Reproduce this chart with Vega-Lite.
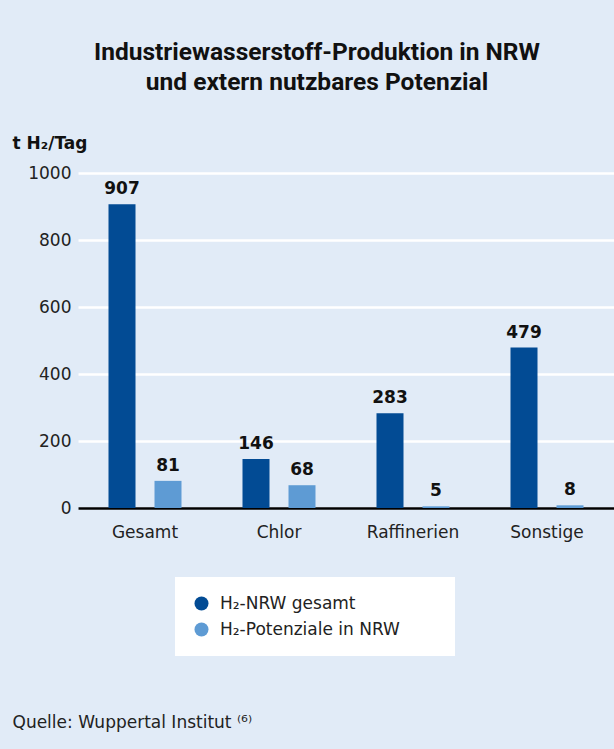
{
  "$schema": "https://vega.github.io/schema/vega-lite/v6.json",
  "width": 536,
  "height": 335,
  "autosize": {"type": "none"},
  "padding": {"left": 78, "top": 173, "right": 0, "bottom": 241},
  "background": "#e1ebf7",
  "title": {
    "text": ["Industriewasserstoff-Produktion in NRW", "und extern nutzbares Potenzial"],
    "font": "Roboto",
    "fontSize": 24.5,
    "fontWeight": "bold",
    "color": "#111111",
    "lineHeight": 30,
    "anchor": "middle",
    "frame": "group",
    "dx": -29,
    "offset": 39
  },
  "data": {
    "values": [
      {"Kategorie": "Gesamt", "Serie": "H₂-NRW gesamt", "Wert": 907},
      {"Kategorie": "Gesamt", "Serie": "H₂-Potenziale in NRW", "Wert": 81},
      {"Kategorie": "Chlor", "Serie": "H₂-NRW gesamt", "Wert": 146},
      {"Kategorie": "Chlor", "Serie": "H₂-Potenziale in NRW", "Wert": 68},
      {"Kategorie": "Raffinerien", "Serie": "H₂-NRW gesamt", "Wert": 283},
      {"Kategorie": "Raffinerien", "Serie": "H₂-Potenziale in NRW", "Wert": 5},
      {"Kategorie": "Sonstige", "Serie": "H₂-NRW gesamt", "Wert": 479},
      {"Kategorie": "Sonstige", "Serie": "H₂-Potenziale in NRW", "Wert": 8}
    ]
  },
  "encoding": {
    "x": {
      "field": "Kategorie",
      "type": "nominal",
      "sort": null,
      "scale": {"paddingInner": 0, "paddingOuter": 0},
      "axis": {
        "title": "Quelle: Wuppertal Institut ⁽⁶⁾",
        "titleFont": "DejaVu Sans",
        "titleFontSize": 17,
        "titleFontWeight": "normal",
        "titleColor": "#222222",
        "titleAnchor": "start",
        "titleAlign": "left",
        "titleBaseline": "middle",
        "titleX": -66,
        "titleY": 214,
        "labelAngle": 0,
        "labelFont": "DejaVu Sans",
        "labelFontSize": 17,
        "labelColor": "#222222",
        "labelPadding": 16,
        "ticks": false,
        "domainColor": "#000000",
        "domainWidth": 2.5,
        "grid": false
      }
    },
    "xOffset": {
      "field": "Serie",
      "type": "nominal",
      "sort": ["H₂-NRW gesamt", "H₂-Potenziale in NRW"],
      "scale": {"paddingInner": 0.413, "paddingOuter": 0.663}
    },
    "y": {
      "field": "Wert",
      "type": "quantitative",
      "scale": {"domain": [0, 1000]},
      "axis": {
        "title": "t H₂/Tag",
        "titleFont": "DejaVu Sans",
        "titleFontSize": 17,
        "titleFontWeight": "bold",
        "titleColor": "#111111",
        "titleAngle": 0,
        "titleAlign": "left",
        "titleBaseline": "middle",
        "titleX": -66,
        "titleY": -30,
        "values": [0, 200, 400, 600, 800, 1000],
        "format": "d",
        "labelFont": "DejaVu Sans",
        "labelFontSize": 17,
        "labelColor": "#222222",
        "labelPadding": 7,
        "ticks": false,
        "domain": false,
        "grid": true,
        "gridColor": "#ffffff",
        "gridWidth": 2.5
      }
    }
  },
  "layer": [
    {
      "mark": {"type": "bar"},
      "encoding": {
        "color": {
          "field": "Serie",
          "type": "nominal",
          "scale": {"domain": ["H₂-NRW gesamt", "H₂-Potenziale in NRW"], "range": ["#024b94", "#5e9bd4"]},
          "legend": {
            "title": "\u00a0",
            "titleOrient": "right",
            "titleFont": "DejaVu Sans",
            "titleFontSize": 17,
            "titlePadding": 37,
            "orient": "none",
            "legendX": 97,
            "legendY": 404,
            "padding": 18,
            "fillColor": "#ffffff",
            "symbolType": "circle",
            "symbolSize": 196,
            "symbolStrokeWidth": 0,
            "labelFont": "DejaVu Sans",
            "labelFontSize": 17,
            "labelColor": "#222222",
            "labelOffset": 10,
            "labelLimit": 400,
            "rowPadding": 8
          }
        }
      }
    },
    {
      "mark": {"type": "text", "dy": -6, "baseline": "bottom", "font": "DejaVu Sans", "fontSize": 17, "fontWeight": "bold", "color": "#111111"},
      "encoding": {"text": {"field": "Wert", "type": "quantitative"}}
    }
  ],
  "config": {"view": {"stroke": null}}
}
